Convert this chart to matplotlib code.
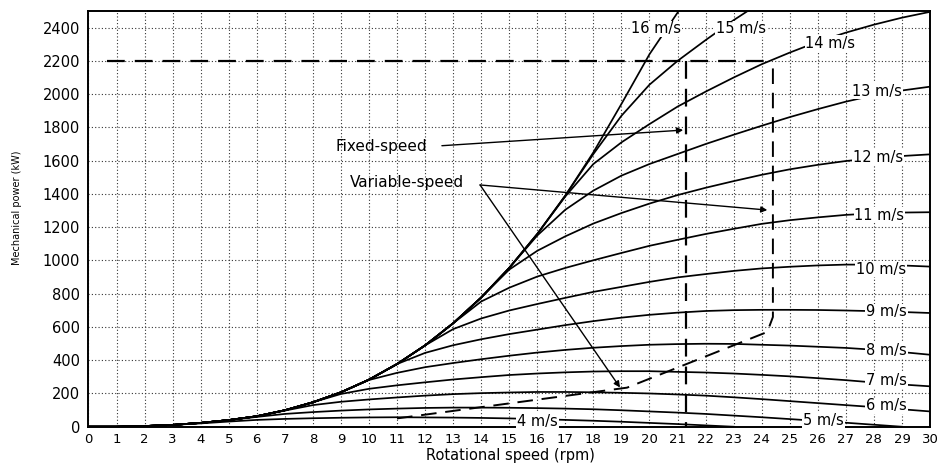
import numpy as np
import matplotlib
matplotlib.use("Agg")
import matplotlib.pyplot as plt

# rotor speed grid (rpm) shared by all curves
rpm = list(range(31))

# mechanical power (kW) per wind speed at each rpm
p4 = [0, 0, 4, 11, 20, 31, 41, 47, 51, 54, 56, 57, 56, 55, 53, 50, 46, 41, 36, 30, 23, 16, 8, 0]
p5 = [0, 0, 4, 11, 23, 40, 59, 77, 88, 97, 104, 109, 113, 115, 115, 114, 112, 109, 105, 99,
      92, 85, 77, 67, 57, 46, 35, 24, 12, 0]
p6 = [0, 0, 4, 11, 23, 40, 63, 97, 130, 150, 164, 176, 187, 196, 202, 206, 209, 209, 207, 204,
      200, 194, 187, 177, 166, 154, 142, 130, 118, 105, 92]
p7 = [0, 0, 4, 11, 23, 40, 63, 99, 147, 197, 228, 249, 267, 284, 298, 311, 320, 327, 332, 334,
      334, 330, 326, 320, 312, 303, 292, 280, 266, 254, 243]
p8 = [0, 0, 4, 11, 23, 40, 63, 99, 147, 207, 281, 324, 358, 383, 406, 427, 446, 462, 475, 485,
      493, 497, 499, 498, 493, 488, 481, 474, 463, 449, 433]
p9 = [0, 0, 4, 11, 23, 40, 63, 99, 147, 207, 283, 377, 444, 490, 526, 557, 584, 611, 635, 656,
      673, 686, 696, 701, 703, 703, 702, 699, 695, 690, 684]
p10 = [0, 0, 4, 11, 23, 40, 63, 99, 147, 207, 283, 377, 489, 587, 651, 699, 738, 775, 811, 841,
       871, 898, 918, 937, 952, 962, 970, 975, 975, 970, 963]
p11 = [0, 0, 4, 11, 23, 40, 63, 99, 147, 207, 283, 377, 489, 622, 753, 836, 903, 955, 1001, 1045,
       1088, 1124, 1159, 1190, 1220, 1242, 1259, 1274, 1283, 1288, 1290]
p12 = [0, 0, 4, 11, 23, 40, 63, 99, 147, 207, 283, 377, 489, 622, 777, 945, 1058, 1145, 1222, 1285,
       1342, 1393, 1437, 1477, 1515, 1548, 1575, 1598, 1615, 1628, 1638]
p13 = [0, 0, 4, 11, 23, 40, 63, 99, 147, 207, 283, 377, 489, 622, 777, 955, 1150, 1305, 1420, 1510,
       1580, 1640, 1700, 1756, 1810, 1862, 1910, 1955, 1993, 2022, 2045]
p14 = [0, 0, 4, 11, 23, 40, 63, 99, 147, 207, 283, 377, 489, 622, 777, 955, 1159, 1385, 1580, 1710,
       1820, 1925, 2015, 2100, 2180, 2250, 2315, 2370, 2418, 2460, 2495]
p15 = [0, 0, 4, 11, 23, 40, 63, 99, 147, 207, 283, 377, 489, 622, 777, 955, 1159, 1390, 1640, 1870,
       2057, 2200, 2325, 2445, 2555, 2650]
p16 = [0, 0, 4, 11, 23, 40, 63, 99, 147, 207, 283, 377, 489, 622, 777, 955, 1159, 1390, 1650, 1941,
       2240, 2490, 2700, 2880]

speeds = [4, 5, 6, 7, 8, 9, 10, 11, 12, 13, 14, 15, 16]
curves = [p4, p5, p6, p7, p8, p9, p10, p11, p12, p13, p14, p15, p16]

# where each "x m/s" tag sits
label_x = [16.0, 26.2, 28.45, 28.45, 28.45, 28.45, 28.25, 28.2, 28.15, 28.1, 26.45, 23.25, 20.25]
label_y = [34, 40, 125, 275, 461, 690, 948, 1273, 1619, 2019, 2307, 2392, 2392]

# operating limits
rated_power = 2200
rated_start = 0.65
fixed_rpm = 21.3
var_x = [11.0, 19.2, 24.2, 24.4, 24.4]
var_y = [50, 235, 570, 660, 2200]

fig = plt.figure(figsize=(9.41, 4.71), dpi=100)
ax = fig.add_axes([0.094, 0.094, 0.8943, 0.8826])

for v, p in zip(speeds, curves):
    ax.plot(rpm[:len(p)], p, color="k", lw=1.25, zorder=3)

for v, lx, ly in zip(speeds, label_x, label_y):
    ax.text(lx, ly, f"{v} m/s", ha="center", va="center", fontsize=10.5, zorder=6,
            bbox=dict(facecolor="white", edgecolor="none", pad=0.6))

# dashed limits (rated power, fixed-speed and variable-speed paths)
dash = (0, (8, 4.5))
ax.plot([rated_start, var_x[-1]], [rated_power, rated_power], color="k", lw=1.6, ls=dash, zorder=4)
ax.plot([fixed_rpm, fixed_rpm], [rated_power, 0], color="k", lw=1.6, ls=dash, zorder=4)
ax.plot(var_x, var_y, color="k", lw=1.4, ls=dash, zorder=4)

# annotations
arrow = dict(arrowstyle="-|>", color="k", lw=1.0, mutation_scale=9, shrinkA=0, shrinkB=0)
ax.text(8.8, 1688, "Fixed-speed", ha="left", va="center", fontsize=11, zorder=6)
ax.annotate("", xy=(21.2, 1784), xytext=(12.6, 1690), arrowprops=arrow, zorder=5)
ax.text(9.32, 1469, "Variable-speed", ha="left", va="center", fontsize=11, zorder=6)
ax.annotate("", xy=(24.2, 1303), xytext=(13.96, 1454), arrowprops=arrow, zorder=5)
ax.annotate("", xy=(18.95, 236), xytext=(13.96, 1454), arrowprops=arrow, zorder=5)

ax.set_xlim(0, 30)
ax.set_ylim(0, 2500)
ax.set_xticks(range(0, 31))
ax.set_yticks(range(0, 2401, 200))
ax.tick_params(axis="x", length=0, pad=4.5, labelsize=9.5)
ax.tick_params(axis="y", length=0, pad=6, labelsize=10.5)
ax.grid(True, color="0.2", linestyle=(0, (1, 2)), linewidth=0.8)
ax.set_axisbelow(True)
for s in ax.spines.values():
    s.set_linewidth(1.4)

ax.set_xlabel("Rotational speed (rpm)", fontsize=10.5)
ax.xaxis.set_label_coords(0.5015, -0.051)
ax.set_ylabel("Mechanical power (kW)", fontsize=7)
ax.yaxis.set_label_coords(-0.079, 0.526)

fig.savefig("out.png", dpi=100)
